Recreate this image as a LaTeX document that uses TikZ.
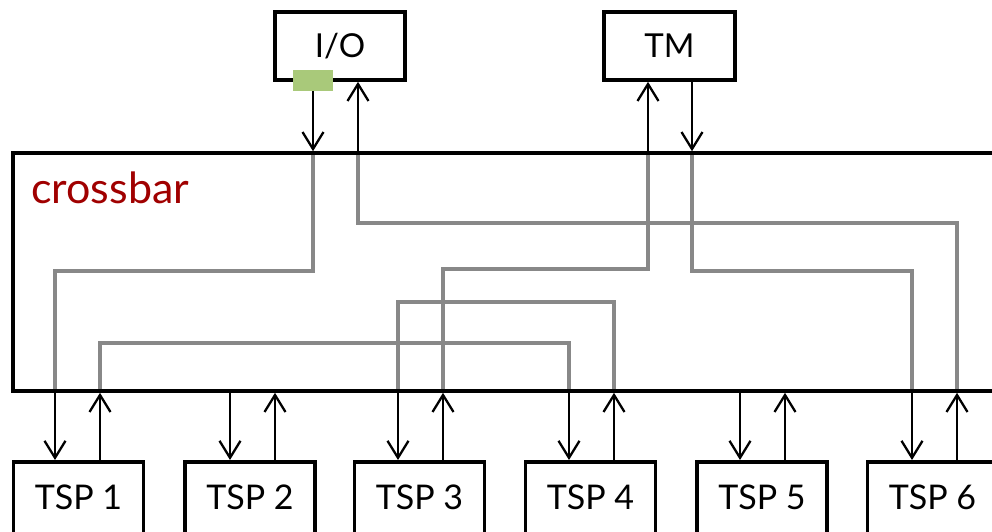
\documentclass[tikz,border=0pt]{standalone}
\usepackage{fontspec}
\setmainfont{Lato}
\usetikzlibrary{arrows.meta,backgrounds}
\definecolor{wire}{RGB}{136,136,136}
\definecolor{xbred}{RGB}{160,0,0}
\definecolor{portgreen}{RGB}{169,201,122}
\tikzset{
  box/.style={draw=black,line width=3.6pt,inner sep=0pt},
  unit/.style={box,minimum width=130pt,minimum height=68pt,font=\fontsize{33}{38}\selectfont},
  tspbox/.style={box,anchor=north,minimum width=130pt,minimum height=80pt,text depth=10pt,font=\fontsize{34}{40}\selectfont},
  link/.style={draw=black,line width=2.3pt,-{Straight Barb[length=17pt,width=21pt,line width=2.3pt]}},
  wirepath/.style={draw=wire,line width=3.3pt}
}
\begin{document}
\begin{tikzpicture}[x=1pt,y=-1pt]
\useasboundingbox (0,0) rectangle (992,531);
\clip (0,0) rectangle (992,531);

% top units
\node[unit] (io) at (340,46) {I/O};
\node[unit,minimum width=131pt] (tm) at (669.5,46) {TM};
\node[fill=portgreen,minimum width=40pt,minimum height=21pt,inner sep=0pt] (iop) at (313,80.5) {};

% crossbar
\node[box,minimum width=987pt,minimum height=238pt] (cb) at (506.5,272) {};
\node[anchor=base west,inner sep=0pt,text=xbred,font=\fontsize{43}{48}\selectfont] (cbl) at (31,203) {crossbar};

% processors
\node[tspbox] (tsp1) at (78.5,460) {TSP 1};
\node[tspbox] (tsp2) at (250,460) {TSP 2};
\node[tspbox] (tsp3) at (419.5,460) {TSP 3};
\node[tspbox] (tsp4) at (590.5,460) {TSP 4};
\node[tspbox] (tsp5) at (762,460) {TSP 5};
\node[tspbox] (tsp6) at (932.5,460) {TSP 6};

% port columns (d = into a processor, u = out of it)
\coordinate (c1d) at (55,0);  \coordinate (c1u) at (100,0);
\coordinate (c2d) at (230,0); \coordinate (c2u) at (275,0);
\coordinate (c3d) at (398,0); \coordinate (c3u) at (443,0);
\coordinate (c4d) at (569,0); \coordinate (c4u) at (614,0);
\coordinate (c5d) at (740,0); \coordinate (c5u) at (785,0);
\coordinate (c6d) at (912,0); \coordinate (c6u) at (957,0);
\coordinate (ciod) at (313,0); \coordinate (ciou) at (358,0);
\coordinate (ctmu) at (648,0); \coordinate (ctmd) at (692,0);

% routes through the crossbar
\begin{scope}[on background layer]
  \draw[wirepath] (cb.north -| ciod) |- (c1d |- 0,271) -- (cb.south -| c1d);
  \draw[wirepath] (cb.north -| ciou) |- (c6u |- 0,223) -- (cb.south -| c6u);
  \draw[wirepath] (cb.north -| ctmu) |- (c3u |- 0,269) -- (cb.south -| c3u);
  \draw[wirepath] (cb.north -| ctmd) |- (c6d |- 0,271) -- (cb.south -| c6d);
  \draw[wirepath] (cb.south -| c3d) |- (c4u |- 0,302) -- (cb.south -| c4u);
  \draw[wirepath] (cb.south -| c1u) |- (c4d |- 0,343) -- (cb.south -| c4d);
\end{scope}

% links to the top units
\draw[link] (iop.south) -- (cb.north -| iop.south);
\draw[link] (cb.north -| ciou) -- (io.south -| ciou);
\draw[link] (cb.north -| ctmu) -- (tm.south -| ctmu);
\draw[link] (tm.south -| ctmd) -- (cb.north -| ctmd);

% links to the processors
\foreach \i in {1,...,6} {
  \draw[link] (cb.south -| c\i d) -- (tsp\i.north -| c\i d);
  \draw[link] (tsp\i.north -| c\i u) -- (cb.south -| c\i u);
}
\end{tikzpicture}
\end{document}
